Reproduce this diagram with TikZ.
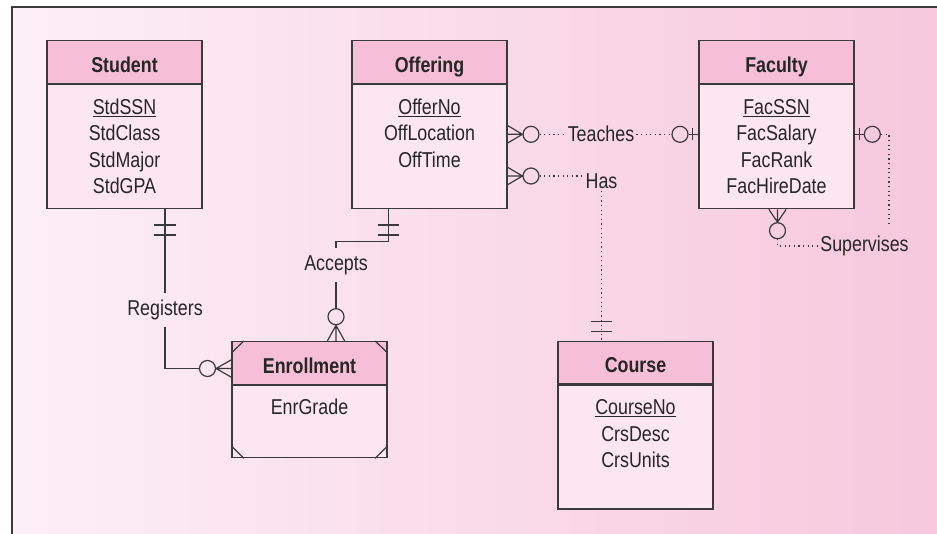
\documentclass[tikz,border=0pt]{standalone}
\usepackage{fontspec}
\setmainfont{Liberation Sans}[FakeStretch=0.83]
\usetikzlibrary{calc}

\definecolor{frame}{HTML}{3A3A3A}
\definecolor{ink}{HTML}{262626}
\definecolor{hdrpink}{HTML}{F6BED7}
\definecolor{bodypink}{HTML}{FCE7F1}
\definecolor{bgleft}{HTML}{FCEFF5}
\definecolor{bgright}{HTML}{F7C8DD}

\newcommand{\erfont}{\fontsize{21.5}{26.5}\selectfont}

\begin{document}
\begin{tikzpicture}[x=1pt,y=-1pt,
  every node/.style={text=ink},
  hdr/.style={font=\erfont\bfseries, draw=frame, line width=1.4pt, fill=hdrpink,
    minimum width=155pt, minimum height=42.5pt, inner sep=0pt,
    text height=20.5pt, text depth=0pt},
  bodyb/.style={draw=frame, line width=1.4pt, fill=bodypink,
    minimum width=155pt, inner sep=0pt, anchor=north},
  attr/.style={font=\erfont, anchor=base, inner sep=0pt},
  lbl/.style={font=\erfont, inner xsep=3pt, inner ysep=7pt},
  dotlbl/.style={font=\erfont, inner xsep=2pt, inner ysep=2.5pt},
  ring/.style={circle, draw=frame, line width=1.2pt, minimum size=16pt, inner sep=0pt},
  link/.style={draw=frame, line width=1.2pt},
  dots/.style={draw=frame, line width=1.2pt, dash pattern=on 1.2pt off 3.4pt}
]
\path[use as bounding box] (0,0) rectangle (937,534);

% page background with the framed, shaded panel
\fill[white] (0,0) rectangle (937,534);
\shade[left color=bgleft, right color=bgright] (12,7) rectangle (937,534);
\draw[frame, line width=1.4pt] (12,534) -- (12,7) -- (937,7);

% ---------- entities ----------
% Student
\node[hdr] (stuH) at (124.5,62) {Student};
\node[bodyb, minimum height=124pt] (stu) at (stuH.south) {};
\node[attr] (stu1) at (124.5,114.5) {\underline{StdSSN}};
\node[attr] (stu2) at (124.5,141) {StdClass};
\node[attr] (stu3) at (124.5,167.5) {StdMajor};
\node[attr] (stu4) at (124.5,194) {StdGPA};

% Offering
\node[hdr] (offH) at (429.5,62) {Offering};
\node[bodyb, minimum height=124pt] (off) at (offH.south) {};
\node[attr] (off1) at (429.5,114.5) {\underline{OfferNo}};
\node[attr] (off2) at (429.5,141) {OffLocation};
\node[attr] (off3) at (429.5,167.5) {OffTime};

% Faculty
\node[hdr] (facH) at (776.5,62) {Faculty};
\node[bodyb, minimum height=124pt] (fac) at (facH.south) {};
\node[attr] (fac1) at (776.5,114.5) {\underline{FacSSN}};
\node[attr] (fac2) at (776.5,141) {FacSalary};
\node[attr] (fac3) at (776.5,167.5) {FacRank};
\node[attr] (fac4) at (776.5,194) {FacHireDate};

% Enrollment (associative entity, cut corners)
\node[hdr] (enrH) at (309.5,363) {Enrollment};
\node[bodyb, minimum height=72pt] (enr) at (enrH.south) {};
\node[attr] (enr1) at (309.5,414.5) {EnrGrade};
\draw[link] ($(enrH.north west)+(0,12)$) -- ($(enrH.north west)+(12.5,0)$);
\draw[link] ($(enrH.north east)+(0,12)$) -- ($(enrH.north east)+(-12.5,0)$);
\draw[link] ($(enr.south west)+(0,-12.5)$) -- ($(enr.south west)+(12.5,0)$);
\draw[link] ($(enr.south east)+(0,-12.5)$) -- ($(enr.south east)+(-12.5,0)$);

% Course
\node[hdr] (crsH) at (635.5,362.5) {Course};
\node[bodyb, minimum height=124pt] (crs) at (crsH.south) {};
\node[attr] (crs1) at (635.5,414.5) {\underline{CourseNo}};
\node[attr] (crs2) at (635.5,441) {CrsDesc};
\node[attr] (crs3) at (635.5,467.5) {CrsUnits};

% ---------- relationships ----------
% Registers: Student -- Enrollment
\node[lbl] (reg) at (165,310) {Registers};
\node[ring] (r1) at (207.5,368.5) {};
\draw[link] (reg.north |- stu.south) -- (reg.north);
\draw[link] (reg.south) |- (r1);
\draw[link] ($(reg.north |- stu.south)+(-11,15.7)$) -- ++(22,0)
            ++(-22,10) -- ++(22,0);
\draw[link] ($(r1.east -| enrH.west)+(0,-8.7)$) -- (r1.east)
            -- ($(r1.east -| enrH.west)+(0,8.7)$)
            (r1.east) -- (r1.east -| enrH.west);

% Accepts: Offering -- Enrollment
\node[lbl] (acc) at (336,265) {Accepts};
\coordinate (k1) at (388.3,241.7);
\node[ring] (r2) at (336,316.7) {};
\draw[link] (k1 |- off.south) -- (k1) -| (acc.north);
\draw[link] (acc.south) -- (r2);
\draw[link] ($(k1 |- off.south)+(-10.5,15.7)$) -- ++(21,0)
            ++(-21,10) -- ++(21,0);
\draw[link] ($(r2.south |- enrH.north)+(-8.7,0)$) -- (r2.south)
            -- ($(r2.south |- enrH.north)+(8.7,0)$)
            (r2.south) -- (r2.south |- enrH.north);

% Teaches: Offering -- Faculty
\node[ring] (r3) at (531,134.3) {};
\node[dotlbl] (tea) at (601,133.5) {Teaches};
\node[ring] (r4) at (680,134.3) {};
\draw[link] ($(r3.west -| off.east)+(0,-8.7)$) -- (r3.west)
            -- ($(r3.west -| off.east)+(0,8.7)$)
            (r3.west) -- (r3.west -| off.east);
\draw[dots] (r3.east) -- (r3.east -| tea.west);
\draw[dots] (r4.west -| tea.east) -- (r4.west);
\draw[link] (r4.east) -- (r4.east -| fac.west);
\draw[link] ($(r4.east -| fac.west)+(-6,-6)$) -- ++(0,12);

% Has: Offering -- Course
\node[ring] (r5) at (531,176) {};
\node[dotlbl] (has) at (601.5,181) {Has};
\draw[link] ($(r5.west -| off.east)+(0,-8.7)$) -- (r5.west)
            -- ($(r5.west -| off.east)+(0,8.7)$)
            (r5.west) -- (r5.west -| off.east);
\draw[dots] (r5.east) -- (r5.east -| has.west);
\draw[dots] (has.south) -- (has.south |- crsH.north);
\draw[link] ($(has.south |- crsH.north)+(-10.5,-19.3)$) -- ++(21,0)
            ++(-21,10.6) -- ++(21,0);

% Supervises: Faculty -- Faculty
\node[ring] (r6) at (872.3,134.3) {};
\node[ring] (r7) at (777.5,230.7) {};
\node[dotlbl] (sup) at (864.5,246) {Supervises};
\coordinate (k2) at (889,225);
\draw[link] (r6.west) -- (r6.west -| fac.east);
\draw[link] ($(r6.west -| fac.east)+(5,-6)$) -- ++(0,12);
\draw[dots] (r6.east) -| (k2);
\draw[link] ($(r7.north |- fac.south)+(-8.7,0)$) -- (r7.north)
            -- ($(r7.north |- fac.south)+(8.7,0)$)
            (r7.north) -- (r7.north |- fac.south);
\draw[dots] (r7.south) |- (sup.west);
\end{tikzpicture}
\end{document}
